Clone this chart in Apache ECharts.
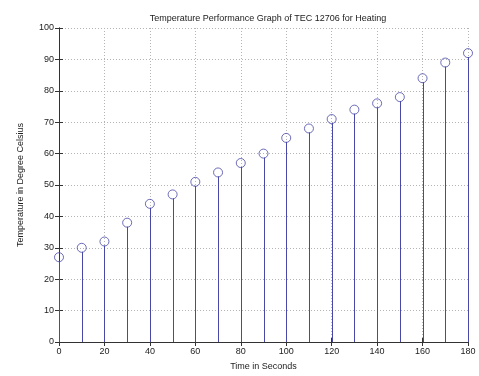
<!DOCTYPE html>
<html>
<head>
<meta charset="utf-8">
<script src="https://cdn.jsdelivr.net/npm/echarts@6/dist/echarts.min.js"></script>
<style>
  html, body { margin: 0; padding: 0; background: #fff; }
  #main { width: 479px; height: 376px; }
</style>
</head>
<body>
<div id="main"></div>
<script>
// time (s) and temperature (deg C)
var times = [0, 10, 20, 30, 40, 50, 60, 70, 80, 90, 100, 110, 120, 130, 140, 150, 160, 170, 180];
var temps = [27, 30, 32, 38, 44, 47, 51, 54, 57, 60, 65, 68, 71, 74, 76, 78, 84, 89, 92];
var xTicks = [0, 20, 40, 60, 80, 100, 120, 140, 160, 180];
var yTicks = [0, 10, 20, 30, 40, 50, 60, 70, 80, 90, 100];

var pts = times.map(function (t, i) { return [t, temps[i]]; });

var dom = document.getElementById('main');
var myChart = echarts.init(dom);
var stemColor = '#4848a8';
var font = 'Liberation Sans, Arial, sans-serif';

var gridLine = { show: true, lineStyle: { color: '#b4b4b4', type: [1, 2], width: 1 } };

var option = {
    animation: false,
    backgroundColor: '#fff',
    title: {
        text: 'Temperature Performance Graph of TEC 12706 for Heating',
        left: 263, top: 9, textAlign: 'center',
        textStyle: { fontFamily: font, fontSize: 9, fontWeight: 'normal', color: '#222' }
    },
    grid: { left: 59, right: 11, top: 28, bottom: 33 },
    xAxis: [{
        type: 'value', min: 0, max: 180, interval: 20,
        name: 'Time in Seconds', nameLocation: 'middle', nameGap: 20,
        nameTextStyle: { fontFamily: font, fontSize: 9, color: '#222' },
        axisLine: { show: true, onZero: false, lineStyle: { color: '#333' } },
        axisTick: { show: true, inside: true, length: 4, lineStyle: { color: '#333' } },
        axisLabel: { fontFamily: font, fontSize: 9, color: '#222', margin: 5,
            formatter: function (v) { return xTicks.indexOf(v) >= 0 ? v : ''; } },
        splitLine: gridLine
    }, {
        type: 'value', min: 0, max: 180, interval: 20, position: 'top',
        axisLine: { show: true, lineStyle: { color: '#333' } },
        axisTick: { show: true, inside: true, length: 4, lineStyle: { color: '#333' } },
        axisLabel: { show: false }, splitLine: { show: false }
    }],
    yAxis: [{
        type: 'value', min: 0, max: 100, interval: 10,
        name: 'Temperature in Degree Celsius', nameLocation: 'middle', nameGap: 34,
        nameTextStyle: { fontFamily: font, fontSize: 9, color: '#222' },
        axisLine: { show: true, lineStyle: { color: '#333' } },
        axisTick: { show: true, inside: true, length: 4, lineStyle: { color: '#333' } },
        axisLabel: { fontFamily: font, fontSize: 9, color: '#222', margin: 5,
            formatter: function (v) { return yTicks.indexOf(v) >= 0 ? v : ''; } },
        splitLine: gridLine
    }, {
        type: 'value', min: 0, max: 100, interval: 10, position: 'right',
        axisLine: { show: true, lineStyle: { color: '#333' } },
        axisTick: { show: true, inside: true, length: 4, lineStyle: { color: '#333' } },
        axisLabel: { show: false }, splitLine: { show: false }
    }],
    series: [{
        type: 'custom',
        renderItem: function (params, api) {
            var top = api.coord([api.value(0), api.value(1)]);
            var base = api.coord([api.value(0), 0]);
            var x = Math.round(base[0]) + 0.5;
            return {
                type: 'line',
                shape: { x1: x, y1: base[1], x2: x, y2: top[1] + 4 },
                style: { stroke: stemColor, lineWidth: 1 }
            };
        },
        data: pts,
        z: 3
    }, {
        type: 'scatter',
        symbol: 'circle',
        symbolSize: 9,
        itemStyle: { color: 'rgba(255,255,255,0)', borderColor: stemColor, borderWidth: 1 },
        data: pts,
        z: 4
    }]
};

if (option && typeof option === 'object') {
    myChart.setOption(option);
}
</script>
</body>
</html>
